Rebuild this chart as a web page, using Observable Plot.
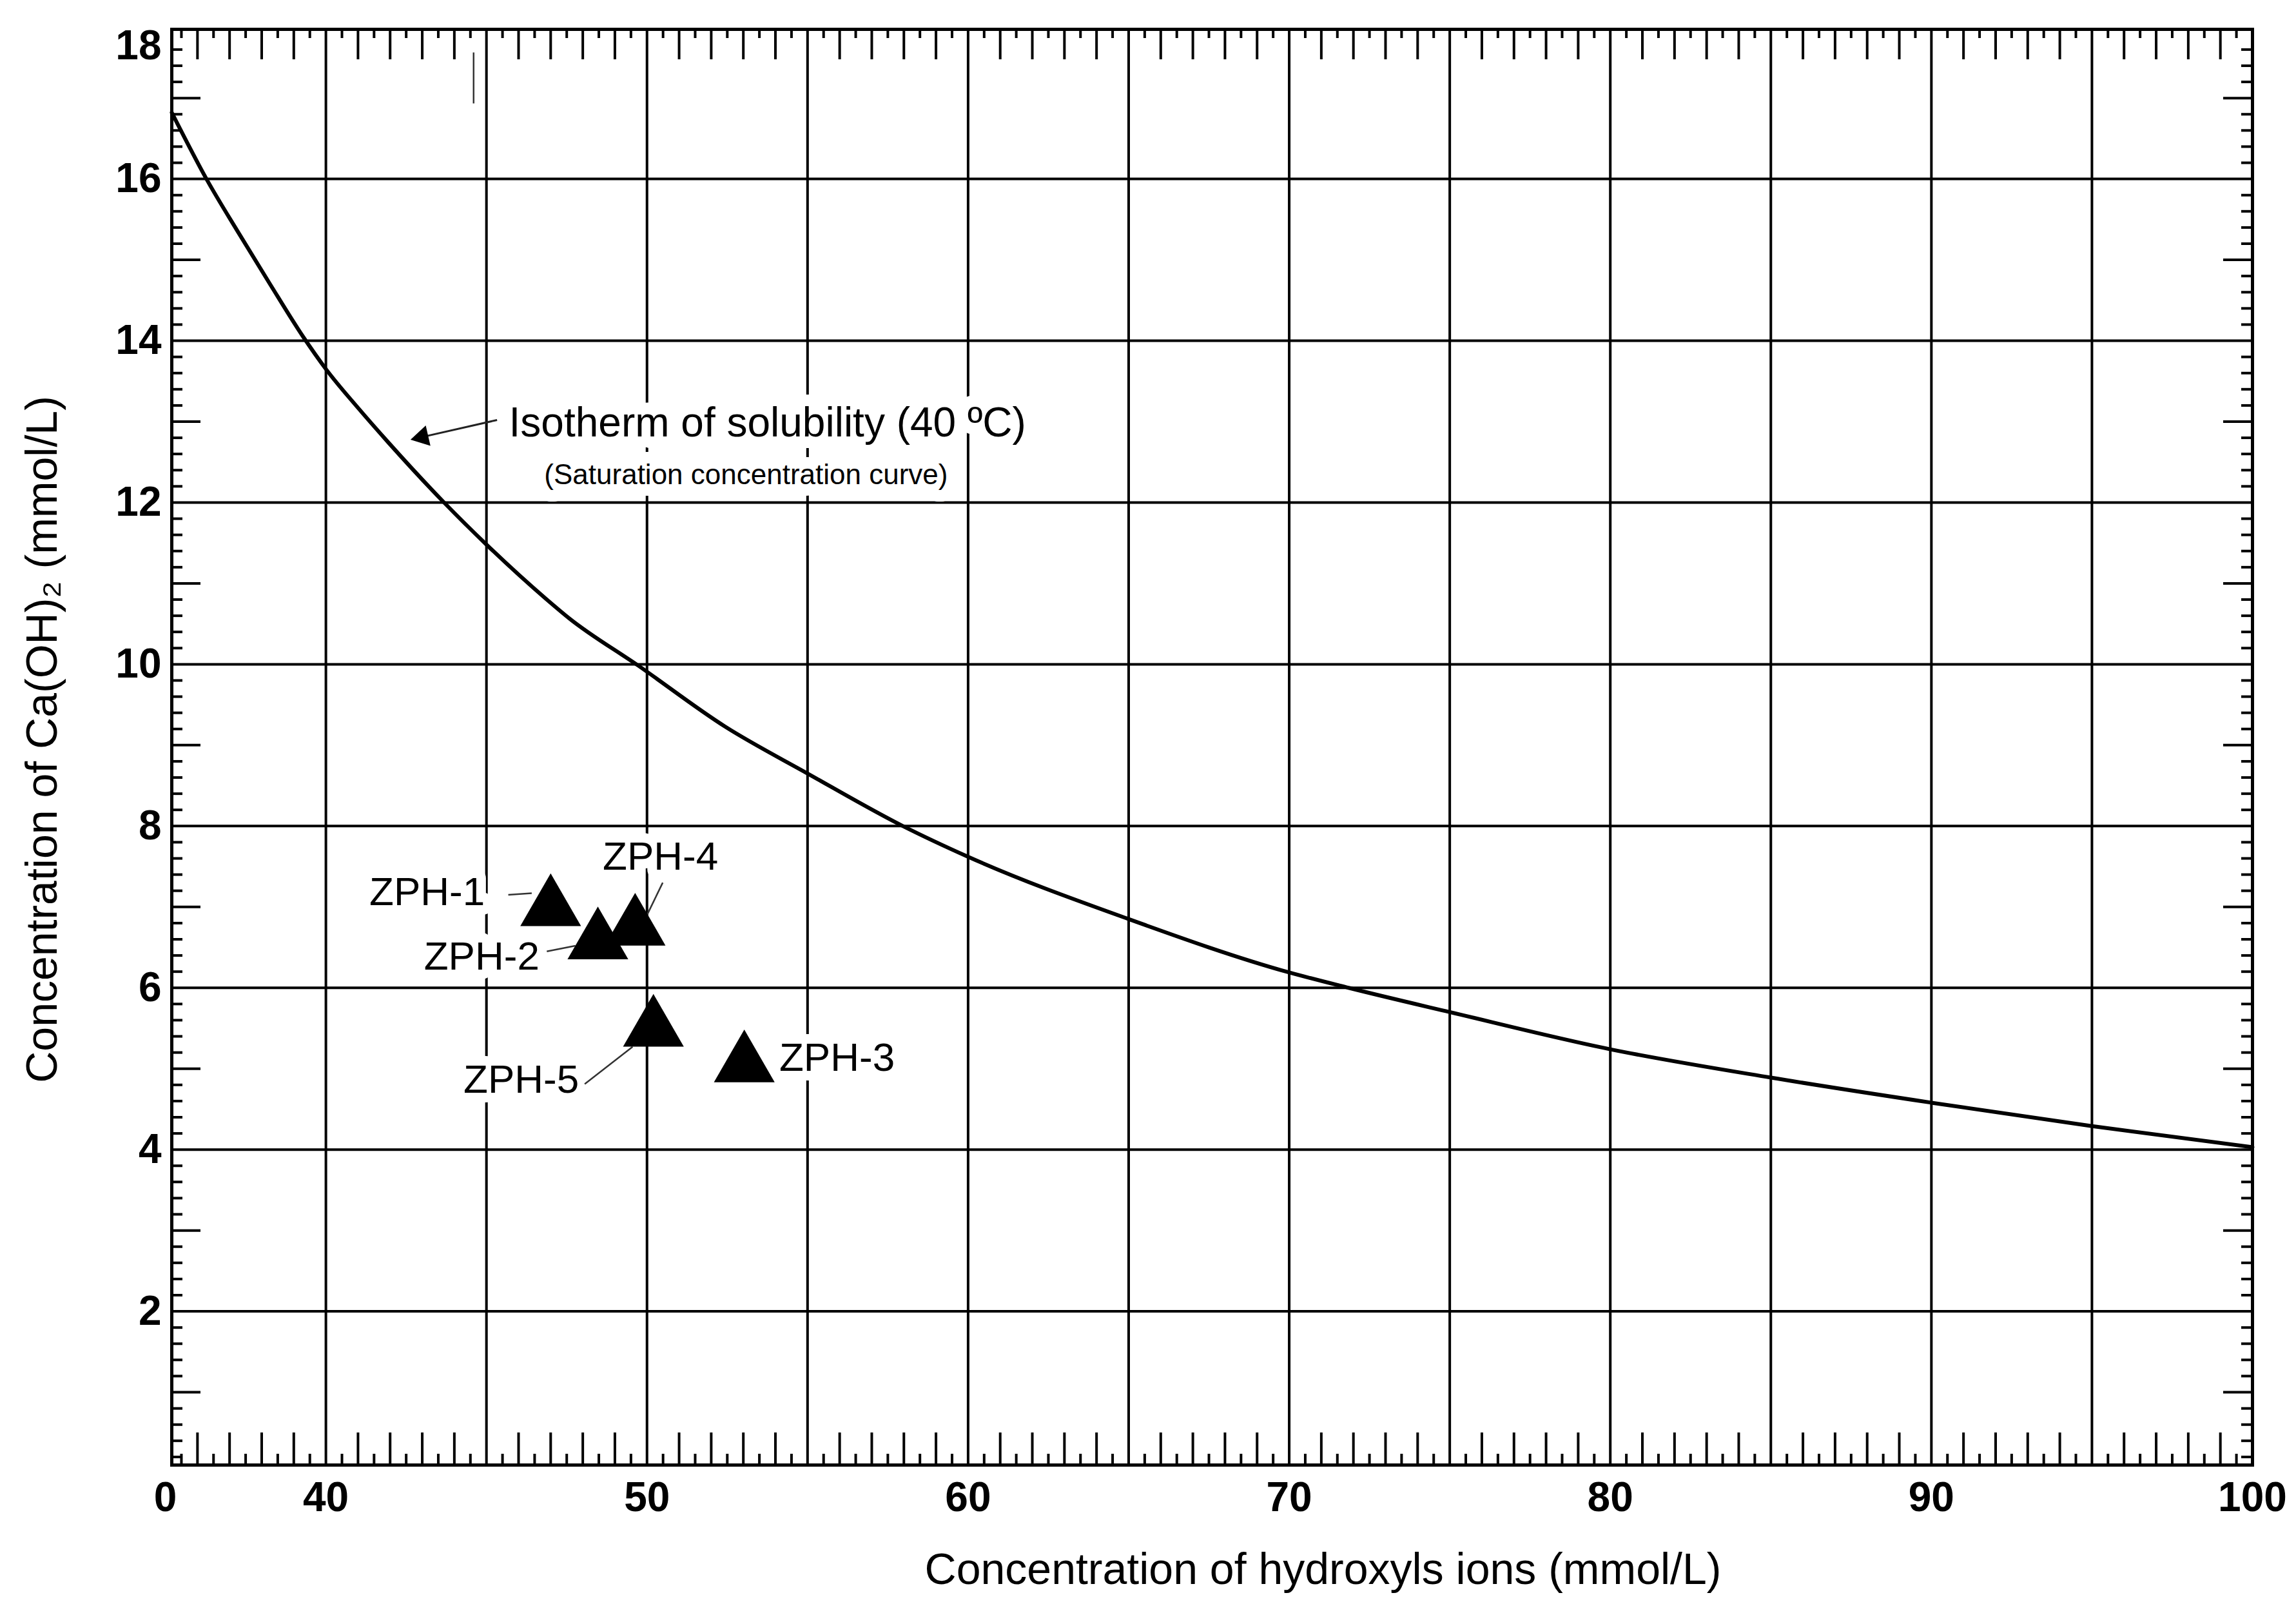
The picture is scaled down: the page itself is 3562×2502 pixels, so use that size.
<!DOCTYPE html>
<html>
<head>
<meta charset="utf-8">
<script src="https://cdn.jsdelivr.net/npm/d3@7"></script>
<script src="https://cdn.jsdelivr.net/npm/@observablehq/plot@0.6"></script>
<style>
  html, body { margin: 0; padding: 0; background: #fff; }
</style>
</head>
<body>
<div id="chart"></div>
<script>
// ---------- data ----------
// Isotherm of solubility (40 ºC) – saturation concentration curve
const curveX = [35.2, 36.28, 37.27, 38.26, 39.29, 40, 41, 41.95, 43.68, 45, 46.85, 47.57, 49.74, 52.43, 55, 57.97, 60, 65, 70, 71.85, 75, 80, 85, 90, 95, 100];
const curveY = [16.82, 16.0, 15.34, 14.7, 14.05, 13.65, 13.17, 12.74, 12.0, 11.48, 10.81, 10.57, 9.98, 9.23, 8.65, 8.0, 7.62, 6.85, 6.19, 6.0, 5.70, 5.24, 4.89, 4.58, 4.29, 4.03];

// samples
const sampleNames = ["ZPH-1", "ZPH-2", "ZPH-3", "ZPH-4", "ZPH-5"];
const sampleX = [47.0, 48.47, 53.03, 49.63, 50.2];
const sampleY = [6.98, 6.57, 5.05, 6.74, 5.49];

// sample labels
const labelX = [44.95, 46.65, 54.12, 50.42, 47.88];
const labelY = [7.18, 6.38, 5.13, 7.62, 4.86];
const labelAnchor = ["end", "end", "start", "middle", "end"];

// leader lines (ZPH-1, ZPH-2, ZPH-4, ZPH-5)
const leaderX1 = [45.68, 46.88, 50.49, 48.06];
const leaderY1 = [7.15, 6.45, 7.30, 4.81];
const leaderX2 = [46.41, 47.77, 50.0, 49.55];
const leaderY2 = [7.17, 6.52, 6.90, 5.27];

// annotation
const noteTexts = ["Isotherm of solubility (40 ºC)", "(Saturation concentration curve)"];
const noteX = [45.7, 46.8];
const noteY = [12.98, 12.34];
const arrowTail = [45.33, 13.02];
const arrowHead = [43.0, 12.81];

// small stray mark near the top
const strayX = [44.6];
const strayY1 = [16.93];
const strayY2 = [17.56];

// axes
const xTickValues = [35, 40, 50, 60, 70, 80, 90, 100];
const xTickLabels = ["0", "40", "50", "60", "70", "80", "90", "100"];
const yTickValues = [2, 4, 6, 8, 10, 12, 14, 16];
const yTickLabels = ["2", "4", "6", "8", "10", "12", "14", "16"];
const yTopValue = [18];
const yTopLabel = ["18"];
const xGrid = [40, 45, 50, 55, 60, 65, 70, 75, 80, 85, 90, 95];
const yGrid = [2, 4, 6, 8, 10, 12, 14, 16];
const xTitle = "Concentration of hydroxyls ions (mmol/L)";
const yTitle = "Concentration of Ca(OH)\u2082 (mmol/L)";

// ---------- layout ----------
const W = 3562, H = 2502;
const mL = 266, mR = 68, mT = 45, mB = 230;
const FW = W - mL - mR, FH = H - mT - mB;
const FONT = "'Liberation Sans', Arial, Helvetica, sans-serif";

// minor ticks (axis decoration)
const yMinor = d3.range(1, 89).map(i => i / 5).filter(v => Math.abs(v - Math.round(v)) > 1e-6);
const yOdd = [1, 3, 5, 7, 9, 11, 13, 15, 17];
const xHalf = d3.range(35.5, 100, 1);
const xInt = d3.range(36, 100).filter(v => v % 5 !== 0);

const curve = curveX.map((x, i) => ({x, y: curveY[i]}));
const samples = sampleNames.map((n, i) => ({name: n, x: sampleX[i], y: sampleY[i]}));
const labels = sampleNames.map((n, i) => ({name: n, x: labelX[i], y: labelY[i], anchor: labelAnchor[i]}));
const leaders = leaderX1.map((x1, i) => ({x1, y1: leaderY1[i], x2: leaderX2[i], y2: leaderY2[i]}));
const notes = noteTexts.map((t, i) => ({t, x: noteX[i], y: noteY[i]}));

const labelStyle = {fontSize: 62, fill: "black", stroke: "white", strokeWidth: 30, paintOrder: "stroke", lineAnchor: "middle"};

const chart = Plot.plot({
  width: W, height: H,
  marginLeft: mL, marginRight: mR, marginTop: mT, marginBottom: mB,
  x: {domain: [35.2, 100]},
  y: {domain: [0.1, 17.85]},
  style: {background: "white", color: "black", fontFamily: FONT},
  marks: [
    // grid
    Plot.ruleX(xGrid, {stroke: "black", strokeWidth: 4}),
    Plot.ruleY(yGrid, {stroke: "black", strokeWidth: 4}),
    // minor ticks: left & right
    Plot.tickY(yMinor, {stroke: "black", strokeWidth: 4, insetRight: FW - 17}),
    Plot.tickY(yOdd, {stroke: "black", strokeWidth: 4, insetRight: FW - 45}),
    Plot.tickY(yMinor, {stroke: "black", strokeWidth: 4, insetLeft: FW - 17}),
    Plot.tickY(yOdd, {stroke: "black", strokeWidth: 4, insetLeft: FW - 45}),
    // minor ticks: top & bottom
    Plot.tickX(xHalf, {stroke: "black", strokeWidth: 4, insetBottom: FH - 14}),
    Plot.tickX(xInt, {stroke: "black", strokeWidth: 4, insetBottom: FH - 47}),
    Plot.tickX(xHalf, {stroke: "black", strokeWidth: 4, insetTop: FH - 17}),
    Plot.tickX(xInt, {stroke: "black", strokeWidth: 4, insetTop: FH - 50}),
    // stray mark
    Plot.ruleX(strayX, {x: d => d, y1: (d, i) => strayY1[i], y2: (d, i) => strayY2[i], stroke: "#333", strokeWidth: 2.5}),
    // solubility curve
    Plot.line(curve, {x: "x", y: "y", curve: "monotone-x", stroke: "black", strokeWidth: 6}),
    // annotation texts with white halo
    Plot.text(notes.slice(0, 1), {x: "x", y: "y", text: "t", textAnchor: "start", fontSize: 64, fill: "black", stroke: "white", strokeWidth: 36, paintOrder: "stroke", lineAnchor: "middle"}),
    Plot.text(notes.slice(1), {x: "x", y: "y", text: "t", textAnchor: "start", fontSize: 44, fill: "black", stroke: "white", strokeWidth: 36, paintOrder: "stroke", lineAnchor: "middle"}),
    // sample labels
    Plot.text(labels.filter(d => d.anchor === "end"), {x: "x", y: "y", text: "name", textAnchor: "end", ...labelStyle}),
    Plot.text(labels.filter(d => d.anchor === "start"), {x: "x", y: "y", text: "name", textAnchor: "start", ...labelStyle}),
    Plot.text(labels.filter(d => d.anchor === "middle"), {x: "x", y: "y", text: "name", textAnchor: "middle", ...labelStyle}),
    // leader lines
    Plot.link(leaders, {x1: "x1", y1: "y1", x2: "x2", y2: "y2", stroke: "#333", strokeWidth: 2.5}),
    // arrow
    Plot.link([{x1: arrowTail[0], y1: arrowTail[1], x2: arrowHead[0], y2: arrowHead[1]}], {x1: "x1", y1: "y1", x2: "x2", y2: "y2", stroke: "#222", strokeWidth: 3}),
    Plot.dot([{x: arrowHead[0], y: arrowHead[1]}], {x: "x", y: "y", symbol: "triangle", r: 12, fill: "black", stroke: "none", rotate: 257}),
    // samples
    Plot.dot(samples, {x: "x", y: "y", symbol: "triangle", r: 35, fill: "black", stroke: "none"}),
    // axes
    Plot.axisX(xTickValues, {tickSize: 0, tickPadding: 26, tickFormat: d => xTickLabels[xTickValues.indexOf(d)], fontSize: 64, fontWeight: "bold", label: null}),
    Plot.axisY(yTickValues, {tickSize: 0, tickPadding: 16, tickFormat: d => yTickLabels[yTickValues.indexOf(d)], fontSize: 64, fontWeight: "bold", label: null}),
    Plot.text(yTopValue, {y: d => d, frameAnchor: "left", dx: -16, dy: 45, textAnchor: "end", lineAnchor: "middle", text: (d, i) => yTopLabel[i], fontSize: 64, fontWeight: "bold"}),
    // titles
    Plot.text([xTitle], {frameAnchor: "bottom", dx: 172, dy: 163, lineAnchor: "middle", textAnchor: "middle", text: d => d, fontSize: 68}),
    Plot.text([yTitle], {frameAnchor: "left", dx: -200, dy: -12, rotate: -90, lineAnchor: "middle", textAnchor: "middle", text: d => d, fontSize: 68}),
    // frame
    Plot.frame({stroke: "black", strokeWidth: 5})
  ]
});
document.getElementById("chart").append(chart);
</script>
</body>
</html>
